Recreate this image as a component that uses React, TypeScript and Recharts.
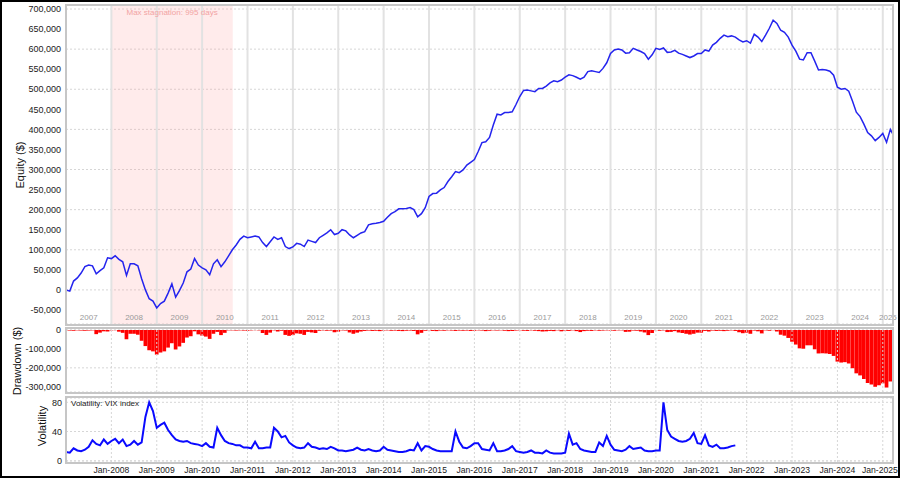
import React from 'react';
import { ComposedChart, Line, Bar, XAxis, YAxis, CartesianGrid, ReferenceArea, ReferenceLine } from 'recharts';

document.body.style.margin = '0';

const FONT = '"Liberation Sans", Arial, sans-serif';
const LAST_MONTH = 218.7; // months since Jan-2007 at the right edge

// equity in $ thousands, one value per month from Jan-2007
const equityK = [
  0, -3, 22, 30, 42, 58, 62, 60, 40, 48, 55, 80,
  78, 85, 76, 70, 36, 65, 65, 60, 28, 0, -22, -28,
  -45, -34, -28, -8, 15, -18, -2, 17, 45, 52, 78, 62,
  55, 50, 38, 65, 75, 58, 70, 85, 100, 112, 126, 134,
  130, 132, 134, 132, 118, 108, 120, 132, 126, 130, 108, 103,
  107, 116, 114, 108, 124, 121, 118, 130, 136, 142, 150, 138,
  141, 150, 147, 137, 130, 136, 142, 145, 162, 165, 166, 168,
  171, 181, 190, 195, 202, 202, 203, 205, 200, 182, 190, 205,
  233, 240, 241, 249, 255, 270, 282, 295, 292, 299, 311, 318,
  325, 345, 367, 369, 380, 411, 438, 436, 442, 442, 444, 462,
  482, 497, 498, 496, 494, 502, 502, 508, 516, 521, 519, 523,
  530, 536, 534, 530, 525, 530, 544, 546, 544, 542, 552, 566,
  589, 598, 600, 598, 590, 591, 602, 598, 594, 589, 575, 586,
  602, 599, 603, 592, 593, 597, 590, 587, 583, 579, 583, 589,
  589, 598, 595, 610, 617, 627, 635, 631, 633, 630, 623, 618,
  621, 615, 637, 630, 619, 635, 652, 672, 664, 647, 642, 630,
  610, 595, 575, 573, 591, 591, 570, 548, 549, 548, 545, 535,
  505, 500, 502, 495, 470, 443, 432, 413, 392, 384, 372, 380,
  390, 368, 400, 382,
];

// drawdown in $ thousands, per month
const drawdownK = [
  -2, -3, -4, -2, -3, -4, -3, -2, -22, -14, -7, -8,
  -2, -1, -9, -15, -49, -20, -20, -25, -57, -85, -107, -113,
  -130, -119, -113, -93, -70, -103, -87, -68, -40, -33, -7, -23,
  -30, -35, -47, -20, -10, -27, -15, -2, -2, -3, -2, -3,
  -4, -2, -1, -2, -16, -26, -14, -2, -8, -4, -26, -31,
  -27, -18, -20, -26, -10, -13, -16, -4, -2, -4, -3, -12,
  -9, -2, -3, -13, -20, -14, -8, -5, -3, -5, -4, -6,
  -3, -2, -4, -3, -5, -6, -4, -3, -5, -23, -15, -4,
  -2, -5, -6, -3, -4, -2, -3, -5, -3, -4, -3, -5,
  -4, -2, -3, -6, -4, -2, -3, -2, -4, -6, -5, -3,
  -2, -4, -5, -2, -4, -6, -8, -7, -5, -6, -2, -7,
  -4, -5, -2, -6, -11, -6, -4, -5, -2, -4, -3, -2,
  -3, -4, -2, -2, -10, -9, -3, -4, -8, -13, -27, -16,
  -1, -4, -2, -11, -10, -6, -13, -16, -20, -24, -20, -14,
  -14, -5, -8, -3, -5, -4, -6, -4, -2, -5, -12, -17,
  -14, -20, -3, -7, -18, -2, -4, -1, -8, -25, -30, -42,
  -62, -77, -97, -99, -81, -81, -102, -124, -123, -124, -127, -137,
  -167, -172, -170, -177, -202, -229, -240, -259, -280, -288, -300, -292,
  -282, -304, -272, -290,
];

// VIX index, per month from Jan-2007 to Oct-2021
const vix = [
  12, 11, 17, 14, 13, 15, 19, 28, 23, 21, 29, 23,
  27, 30, 24, 29, 20, 22, 27, 22, 25, 60, 80, 68,
  45, 49, 52, 42, 35, 29, 27, 26, 27, 24, 23, 22,
  20, 24, 19, 18, 45, 35, 27, 24, 23, 21, 21, 18,
  18, 17, 26, 17, 17, 18, 18, 45, 40, 32, 34, 25,
  21, 18, 17, 18, 24, 19, 18, 16, 17, 16, 19, 17,
  14, 14, 13, 14, 15, 18, 15, 14, 16, 14, 13, 14,
  19, 15, 14, 13, 12, 12, 13, 15, 14, 24, 14, 20,
  19, 16, 14, 13, 13, 13, 13, 40, 26, 18, 17, 20,
  24, 24, 16, 15, 14, 24, 13, 13, 14, 16, 20, 13,
  12, 11, 12, 14, 11, 11, 10, 14, 11, 10, 10, 10,
  11, 37, 22, 24, 16, 14, 13, 12, 12, 25, 20, 34,
  22, 15, 14, 13, 15, 20, 16, 17, 18, 14, 13, 13,
  14, 14, 80, 42, 33, 30, 27, 26, 27, 30, 38, 24,
  23, 35, 21, 19, 22, 17, 17, 18, 20, 21,
];

const yearLabels = ['2007', '2008', '2009', '2010', '2011', '2012', '2013', '2014', '2015', '2016',
  '2017', '2018', '2019', '2020', '2021', '2022', '2023', '2024', '2025'];
const monthLabels = ['Jan-2008', 'Jan-2009', 'Jan-2010', 'Jan-2011', 'Jan-2012', 'Jan-2013', 'Jan-2014',
  'Jan-2015', 'Jan-2016', 'Jan-2017', 'Jan-2018', 'Jan-2019', 'Jan-2020', 'Jan-2021', 'Jan-2022',
  'Jan-2023', 'Jan-2024', 'Jan-2025'];
const equityTicks = [-50, 0, 50, 100, 150, 200, 250, 300, 350, 400, 450, 500, 550, 600, 650, 700];
const drawdownTicks = [-300, -200, -100, 0];
const vixTicks = [0, 20, 40, 60, 80];
const stagnation = { from: 12, to: 44.1, label: 'Max stagnation: 995 days' };

const equityData = equityK.map((v, i) => ({ m: i, eq: v, dd: drawdownK[i] }));
const vixData = vix.map((v, i) => ({ m: i, vix: v }));
const yearStarts = yearLabels.map((_, i) => i * 12);
const boundaryTicks = yearStarts.slice(1);
const yearMid = yearStarts.map((s) => (s + Math.min(s + 12, LAST_MONTH)) / 2);

const fmtK = (v: number) => (v * 1000).toLocaleString('en-US');
const tickStyle = { fontSize: 9, fill: '#1a1a1a', fontFamily: FONT };
const gridColor = '#d6d6d6';

const MonthTick = (props: any) => {
  const { x, y, index } = props;
  const last = index === monthLabels.length - 1;
  return (
    <text x={last ? x + 15 : x} y={y} dy={7} textAnchor={last ? 'end' : 'middle'} fontSize={8.6}
      fill="#1a1a1a" fontFamily={FONT}>
      {monthLabels[index]}
    </text>
  );
};

const AxisTitle = ({ text, cx, cy }: { text: string; cx: number; cy: number }) => (
  <div
    style={{
      position: 'absolute', left: cx, top: cy, transform: 'translate(-50%, -50%) rotate(-90deg)',
      whiteSpace: 'nowrap', fontSize: 11, color: '#111', fontFamily: FONT,
    }}
  >
    {text}
  </div>
);

const Frame = ({ top, height }: { top: number; height: number }) => (
  <div
    style={{
      position: 'absolute', left: 65, top, width: 829, height, boxSizing: 'border-box',
      border: '2px solid #c6c6c6', pointerEvents: 'none',
    }}
  />
);

export default function App() {
  return (
    <div style={{ position: 'relative', width: 900, height: 478, background: '#fff', fontFamily: FONT, overflow: 'hidden' }}>
      <ComposedChart width={900} height={330} data={equityData} margin={{ top: 5, right: 7, bottom: 6, left: 0 }}
        style={{ position: 'absolute', left: 0, top: 0 }}>
        <XAxis type="number" dataKey="m" domain={[0, LAST_MONTH]} ticks={boundaryTicks}
          allowDataOverflow height={0} tick={false} axisLine={false} tickLine={false} />
        <YAxis type="number" domain={[-85, 710]} ticks={equityTicks} allowDataOverflow width={66}
          axisLine={false} tickLine={false} tickSize={3} tickMargin={2} tick={tickStyle} tickFormatter={fmtK} />
        <CartesianGrid vertical={false} stroke={gridColor} strokeDasharray="2 2" />
        <ReferenceArea x1={stagnation.from} x2={stagnation.to} fill="#ff9c9c" fillOpacity={0.2}
          stroke="none"
          label={{ value: stagnation.label, position: 'insideTop', offset: 4, fill: '#f2a3a3', fontSize: 8, fontFamily: FONT }} />
        {boundaryTicks.map((t) => (
          <ReferenceLine key={`b${t}`} x={t} stroke="#e2e2e2" strokeWidth={2} />
        ))}
        {yearMid.map((t, i) => (
          <ReferenceLine key={`y${i}`} x={t} stroke="none" ifOverflow="visible"
            label={{ value: yearLabels[i], position: 'insideBottom', offset: 4, fill: '#9a9a9a', fontSize: 8, fontFamily: FONT }} />
        ))}
        <Line type="linear" dataKey="eq" stroke="#2424ee" strokeWidth={1.5} dot={false} isAnimationActive={false} />
      </ComposedChart>

      <ComposedChart width={900} height={72} data={equityData} margin={{ top: 5, right: 7, bottom: 4, left: 0 }}
        style={{ position: 'absolute', left: 0, top: 324 }}>
        <XAxis type="number" dataKey="m" domain={[0, LAST_MONTH]} ticks={boundaryTicks} allowDataOverflow
          height={0} tick={false} axisLine={false} tickLine={false} />
        <YAxis type="number" domain={[-327.6, 5.2]} ticks={drawdownTicks} allowDataOverflow width={66}
          axisLine={false} tickLine={false} tickSize={3} tickMargin={2} tick={tickStyle} tickFormatter={fmtK} />
        <CartesianGrid vertical={false} stroke={gridColor} strokeDasharray="2 2" />
        {boundaryTicks.map((t) => (
          <ReferenceLine key={`d${t}`} x={t} stroke={gridColor} strokeDasharray="2 2" />
        ))}
        <Bar dataKey="dd" fill="#ff0000" barSize={3.7} isAnimationActive={false} />
      </ComposedChart>

      <ComposedChart width={900} height={84} data={vixData} margin={{ top: 4, right: 7, bottom: 0, left: 0 }}
        style={{ position: 'absolute', left: 0, top: 394 }}>
        <XAxis type="number" dataKey="m" domain={[0, LAST_MONTH]} ticks={boundaryTicks} interval={0} allowDataOverflow
          height={16} axisLine={false} tickLine={false} tickSize={0} tickMargin={4} tick={<MonthTick />} />
        <YAxis type="number" domain={[-1.8, 85.9]} ticks={vixTicks} allowDataOverflow width={66}
          axisLine={false} tickLine={false} tickSize={2} tickMargin={2} tick={tickStyle} />
        <CartesianGrid vertical={false} stroke={gridColor} strokeDasharray="2 2" />
        {boundaryTicks.map((t) => (
          <ReferenceLine key={`v${t}`} x={t} stroke={gridColor} strokeDasharray="2 2" />
        ))}
        <Line type="linear" dataKey="vix" stroke="#0a0aff" strokeWidth={2} dot={false} isAnimationActive={false} />
      </ComposedChart>

      <div style={{ position: 'absolute', left: 71, top: 399, fontSize: 8, color: '#222' }}>Volatility: VIX index</div>

      <AxisTitle text="Equity ($)" cx={20} cy={165} />
      <AxisTitle text="Drawdown ($)" cx={17} cy={361} />
      <AxisTitle text="Volatility" cx={42} cy={426} />

      <Frame top={4} height={322} />
      <Frame top={327} height={67} />
      <Frame top={396} height={68} />
      <div style={{ position: 'absolute', inset: 0, border: '2px solid #000', pointerEvents: 'none' }} />
    </div>
  );
}
